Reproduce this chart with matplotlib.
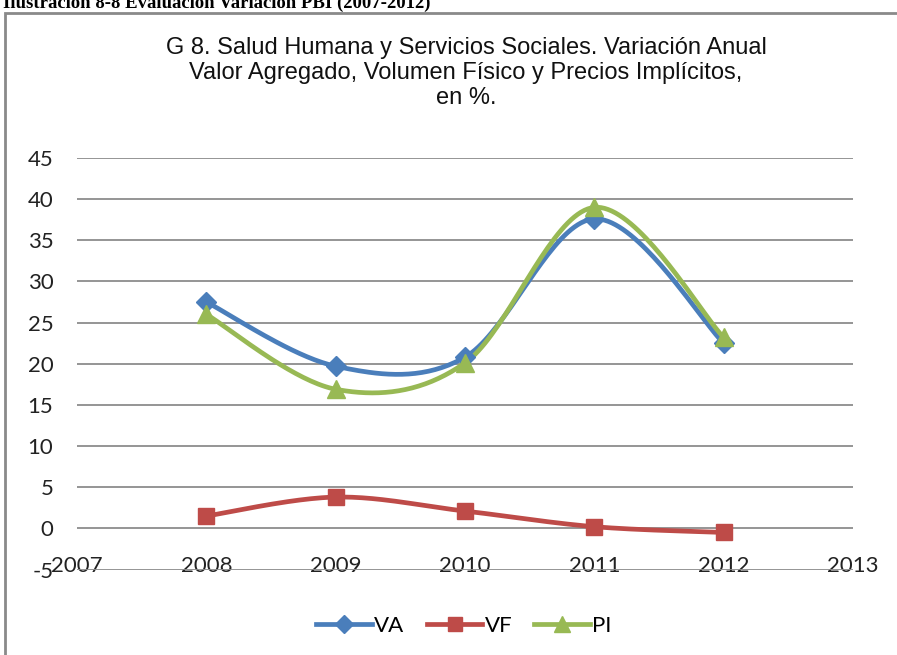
import numpy as np
import matplotlib
matplotlib.use("Agg")
import matplotlib.pyplot as plt
from matplotlib.lines import Line2D
from matplotlib.patches import Rectangle

plt.rcParams["axes.unicode_minus"] = False

years = [2008, 2009, 2010, 2011, 2012]
va = [27.5, 19.7, 20.8, 37.6, 22.5]
vf = [1.5, 3.8, 2.1, 0.2, -0.5]
pi = [26.0, 16.9, 20.1, 39.0, 23.2]
series_names = ["VA", "VF", "PI"]
xticks = [2007, 2008, 2009, 2010, 2011, 2012, 2013]
yticks = [-5, 0, 5, 10, 15, 20, 25, 30, 35, 40, 45]

title = "G 8. Salud Humana y Servicios Sociales. Variación Anual\nValor Agregado, Volumen Físico y Precios Implícitos,\nen %."
caption = "Ilustración 8-8 Evaluación Variación PBI (2007-2012)"

colors = ["#4A7EBB", "#BE4B48", "#98B954"]
markers = ["D", "s", "^"]
msizes = [10, 11, 13]

W, H = 897, 655
fig = plt.figure(figsize=(W / 100, H / 100), dpi=100)
ax = fig.add_axes([77 / W, 1 - 569.5 / H, (853 - 77) / W, (569.5 - 158) / H])


def smooth(xs, ys, n=40):
    x = np.asarray(xs, float)
    y = np.asarray(ys, float)
    P = np.column_stack([x, y])
    Pext = np.vstack([P[0], P, P[-1]])
    out = []
    for i in range(len(P) - 1):
        p0, p1, p2, p3 = Pext[i], Pext[i + 1], Pext[i + 2], Pext[i + 3]
        c1 = p1 + (p2 - p0) / 6.0
        c2 = p2 - (p3 - p1) / 6.0
        t = np.linspace(0, 1, n)[:, None]
        seg = ((1 - t) ** 3) * p1 + 3 * ((1 - t) ** 2) * t * c1 + 3 * (1 - t) * t ** 2 * c2 + t ** 3 * p2
        out.append(seg if i == 0 else seg[1:])
    out = np.vstack(out)
    return out[:, 0], out[:, 1]


for vals, c, m, ms, name in zip([va, vf, pi], colors, markers, msizes, series_names):
    sx, sy = smooth(years, vals)
    ax.plot(sx, sy, color=c, lw=3.4, solid_capstyle="round", zorder=3)
    ax.plot(years, vals, ls="none", marker=m, ms=ms, color=c, zorder=4)

ax.set_xlim(2007, 2013)
ax.set_ylim(-5, 45)
ax.set_xticks(xticks)
ax.set_yticks(yticks)
ax.grid(axis="y", color="#8C8C8C", lw=1.3)
ax.grid(axis="x", visible=False)
ax.set_axisbelow(True)
for s in ax.spines.values():
    s.set_visible(False)

tick_font = "Lato"
fs = 16
ax.tick_params(axis="y", length=0, pad=17, labelsize=fs, labelcolor="#222222")
ax.tick_params(axis="x", length=0, pad=1.8, labelsize=fs, labelcolor="#222222")
for t in ax.xaxis.get_major_ticks():
    t.label1.set_va("baseline")
for lab in ax.get_xticklabels() + ax.get_yticklabels():
    lab.set_fontfamily(tick_font)

fig.text(466 / W, 1 - 73 / H, title, ha="center", va="center", fontsize=17,
         family="Liberation Sans", linespacing=1.16, color="#111111")

fig.text(3 / W, 1 - 7.5 / H, caption, ha="left", va="baseline", fontsize=13.5,
         family="Liberation Serif", weight="bold")

fig.patches.append(Rectangle((5 / W, -0.05), 1.0, 1 - 13 / H + 0.05, transform=fig.transFigure,
                             fill=False, edgecolor="#8A8A8A", lw=2.0))

handles = [Line2D([], [], color=c, lw=3.4, marker=m, ms=ms * 0.9) for c, m, ms in zip(colors, markers, msizes)]
fig.legend(handles, series_names, loc="center", bbox_to_anchor=(464 / W, 1 - 626 / H), ncol=3,
           frameon=False, handlelength=2.5, handletextpad=0.1, columnspacing=1.0,
           prop={"family": tick_font, "size": fs})

fig.savefig("out.png", dpi=100)
